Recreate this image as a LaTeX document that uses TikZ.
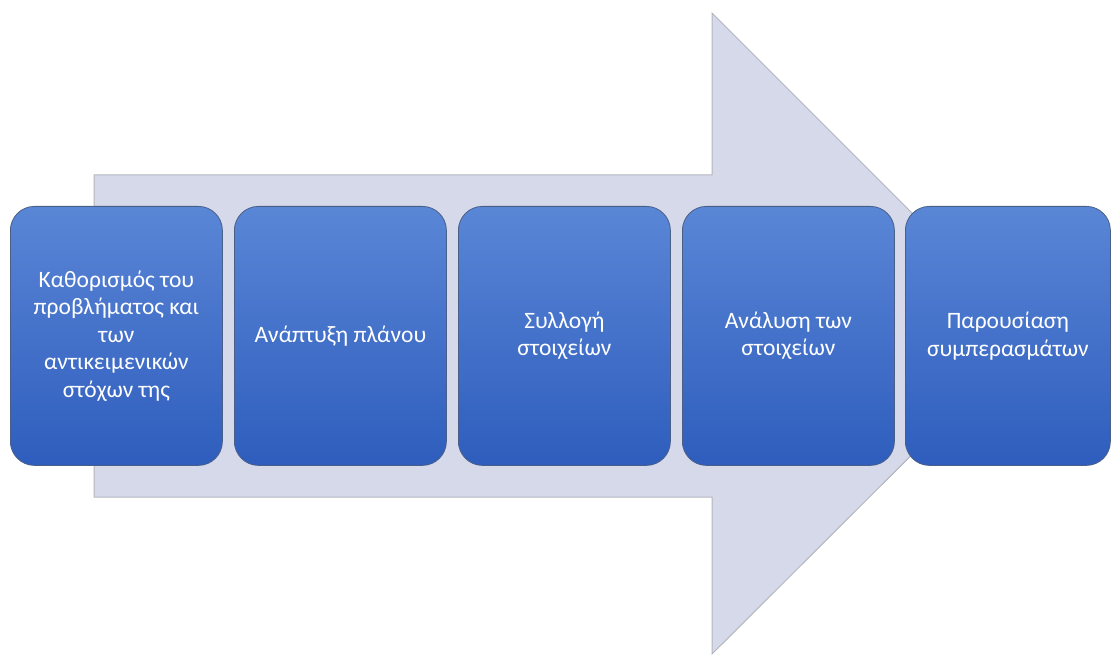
\documentclass[tikz,border=0pt]{standalone}
\usepackage{fontspec}
\setmainfont{Carlito}
\definecolor{arrowfill}{HTML}{D5D9EA}
\definecolor{arrowline}{HTML}{B4B6BE}
\definecolor{boxtop}{HTML}{5A86D6}
\definecolor{boxbot}{HTML}{2E5DBD}
\definecolor{boxline}{HTML}{4A5F88}
\tikzset{
  stepbox/.style={draw=boxline, line width=0.8pt, rounded corners=24pt,
    top color=boxtop, bottom color=boxbot, minimum width=212pt, minimum height=259pt,
    inner sep=0pt, anchor=north west, text=white, align=center,
    font=\fontsize{23.5}{27.5}\selectfont},
}
\begin{document}
\begin{tikzpicture}[x=1pt,y=-1pt]
\useasboundingbox (0,0) rectangle (1111,655);
% big arrow
\path[draw=arrowline, line width=1pt, fill=arrowfill]
  (94,175) -- (712,175) -- (712,13) -- (1033,334) -- (712,654) -- (712,497) -- (94,497) -- cycle;
% boxes
\node[stepbox] (b1) at (10,206) {Καθορισμός του\\προβλήματος και\\των\\αντικειμενικών\\στόχων της};
\node[stepbox] (b2) at (234,206) {Ανάπτυξη πλάνου};
\node[stepbox] (b3) at (458,206) {Συλλογή\\στοιχείων};
\node[stepbox] (b4) at (682,206) {Ανάλυση των\\στοιχείων};
\node[stepbox, minimum width=205pt] (b5) at (905,206) {Παρουσίαση\\συμπερασμάτων};
\end{tikzpicture}
\end{document}
